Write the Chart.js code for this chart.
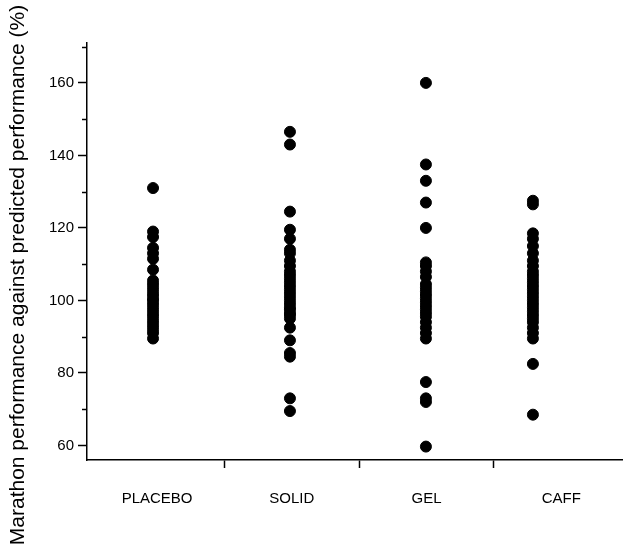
<!DOCTYPE html>
<html>
<head>
<meta charset="utf-8">
<script src="https://cdn.jsdelivr.net/npm/chart.js@4.4.1/dist/chart.umd.min.js"></script>
<style>
html,body{margin:0;padding:0;background:#fff;}
#wrap{width:624px;height:550px;position:relative;}
</style>
</head>
<body>
<div id="wrap"><canvas id="c" width="624" height="550"></canvas></div>
<script>
const categories = ['PLACEBO', 'SOLID', 'GEL', 'CAFF'];
const xPositions = [0.97, 1.986, 2.995, 3.789];
const placebo = [131, 119, 117.5, 114.5, 113, 111.5, 108.5, 105.5, 104.5, 103.5, 102.5, 101.5, 100.5, 100, 99, 98, 97, 96, 95, 94, 93, 92, 91, 89.5];
const solid = [146.5, 143, 124.5, 119.5, 117, 114, 113, 111, 109.5, 108, 107, 106, 105, 104, 103, 102, 101, 100, 99, 98, 97.5, 96.5, 96, 95, 92.5, 89, 85.5, 84.5, 73, 69.5];
const gel = [160, 137.5, 133, 127, 120, 110.5, 109.5, 108, 106.5, 104.5, 103.5, 102.5, 101.5, 100.5, 99.5, 98.5, 97.5, 96.5, 95.5, 94, 92.5, 91, 89.5, 77.5, 73, 72, 59.7];
const caff = [127.5, 126.5, 118.5, 117, 115, 113, 111, 109.5, 108, 107, 106, 105, 104, 103, 102, 101, 100, 99, 98, 97, 96, 95, 94, 92.5, 91, 89.5, 82.5, 68.5];
const yTickValues = [60, 70, 80, 90, 100, 110, 120, 130, 140, 150, 160, 170];
const yLabelValues = [60, 80, 100, 120, 140, 160];
const xTickValues = [1, 1.5, 2, 2.5, 3, 3.5, 4];
const yTitle = 'Marathon performance against predicted performance (%)';
const yMin = 56, yMax = 171;
const xMin = 0.48, xMax = 4.45;

const groups = [placebo, solid, gel, caff];
const datasets = groups.map((vals, i) => ({
  label: categories[i],
  data: vals.map(v => ({x: xPositions[i], y: v})),
  backgroundColor: '#000',
  borderColor: '#000',
  pointRadius: 5.5,
  pointHoverRadius: 5.5,
  showLine: false
}));

const FONT = 'Liberation Sans, Arial, sans-serif';

const extras = {
  id: 'extras',
  afterDraw(chart) {
    const ctx = chart.ctx;
    const y = chart.scales.y;
    ctx.save();
    ctx.strokeStyle = '#000';
    ctx.lineWidth = 1.5;
    // minor y ticks
    yTickValues.forEach(v => {
      if (yLabelValues.includes(v)) return;
      const py = Math.round(y.getPixelForValue(v)) + 0.5;
      ctx.beginPath();
      ctx.moveTo(y.right - 5, py);
      ctx.lineTo(y.right, py);
      ctx.stroke();
    });
    // y title
    ctx.fillStyle = '#000';
    ctx.font = '21px ' + FONT;
    ctx.textAlign = 'center';
    ctx.textBaseline = 'middle';
    ctx.translate(18, 275);
    ctx.rotate(-Math.PI / 2);
    ctx.fillText(yTitle, 0, 0);
    ctx.restore();
  }
};

new Chart(document.getElementById('c'), {
  type: 'scatter',
  data: {datasets},
  options: {
    responsive: false,
    animation: false,
    events: [],
    layout: {autoPadding: false, padding: {left: 0, right: 2, top: 43, bottom: 0}},
    plugins: {legend: {display: false}, tooltip: {enabled: false}},
    scales: {
      x: {
        type: 'linear',
        min: xMin,
        max: xMax,
        afterBuildTicks: s => { s.ticks = xTickValues.map(v => ({value: v})); },
        afterFit: s => { s.height = 90; s.paddingLeft = 0; s.paddingRight = 0; },
        border: {display: true, color: '#000', width: 1.5},
        grid: {
          display: true,
          drawOnChartArea: false,
          drawTicks: true,
          tickLength: 8,
          tickWidth: 1.5,
          tickColor: c => Number.isInteger(c.tick.value) ? 'rgba(0,0,0,0)' : '#000'
        },
        ticks: {
          autoSkip: false,
          maxRotation: 0,
          padding: 22,
          color: '#000',
          font: {family: FONT, size: 15},
          callback: v => Number.isInteger(v) ? categories[v - 1] : ''
        }
      },
      y: {
        type: 'linear',
        min: yMin,
        max: yMax,
        afterBuildTicks: s => { s.ticks = yTickValues.map(v => ({value: v})); },
        afterFit: s => { s.width = 87; s.paddingTop = 0; s.paddingBottom = 0; },
        border: {display: true, color: '#000', width: 1.5},
        grid: {
          display: true,
          drawOnChartArea: false,
          drawTicks: true,
          tickLength: 9,
          tickWidth: 1.5,
          tickColor: c => yLabelValues.includes(c.tick.value) ? '#000' : 'rgba(0,0,0,0)'
        },
        ticks: {
          autoSkip: false,
          padding: 4,
          color: '#000',
          font: {family: FONT, size: 15},
          callback: v => yLabelValues.includes(v) ? String(v) : ''
        }
      }
    }
  },
  plugins: [extras]
});
</script>
</body>
</html>
